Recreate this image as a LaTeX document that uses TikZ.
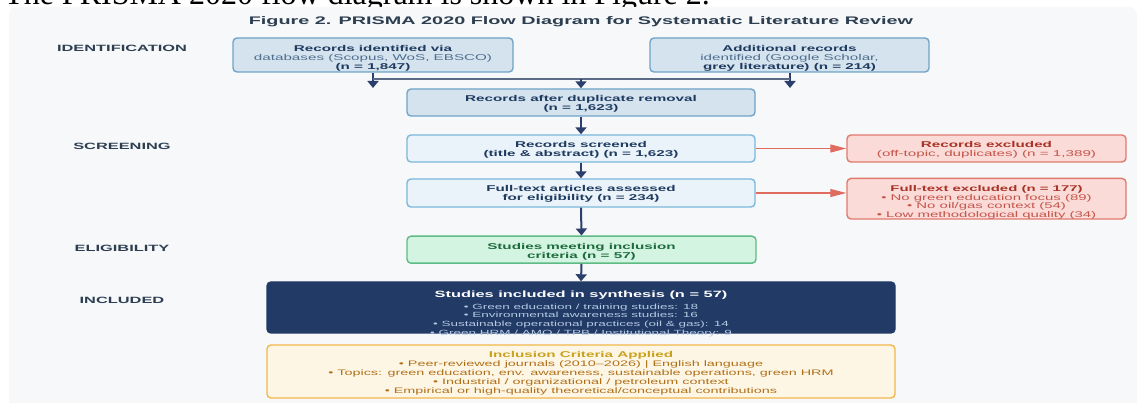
\documentclass[tikz,border=0pt]{standalone}
\usepackage{fontspec}
\setmainfont{Liberation Serif}
\newfontfamily\figsans[FakeStretch=1.8]{Liberation Sans}
\usetikzlibrary{arrows.meta}

\definecolor{panelbg}{HTML}{F7F8FA}
\definecolor{headc}{HTML}{2C3E50}
\definecolor{idfill}{HTML}{D5E3EF}
\definecolor{idline}{HTML}{6FA3C7}
\definecolor{idtext}{HTML}{1E3A5F}
\definecolor{idsub}{HTML}{4E6E8E}
\definecolor{scrfill}{HTML}{EAF3FA}
\definecolor{scrline}{HTML}{7AB8DB}
\definecolor{redfill}{HTML}{FADBD8}
\definecolor{redline}{HTML}{E07A6E}
\definecolor{redtitle}{HTML}{A93226}
\definecolor{redtext}{HTML}{C4554A}
\definecolor{grnfill}{HTML}{D4F4E2}
\definecolor{grnline}{HTML}{5DBB84}
\definecolor{grntext}{HTML}{1D6B3C}
\definecolor{navyfill}{HTML}{213A66}
\definecolor{navysub}{HTML}{B5C9E3}
\definecolor{critfill}{HTML}{FEF6E4}
\definecolor{critline}{HTML}{F2B84B}
\definecolor{crittitle}{HTML}{C9A11C}
\definecolor{crittext}{HTML}{B0701A}
\definecolor{arrowc}{HTML}{2C3E6B}
\definecolor{joinc}{HTML}{5B6B85}
\definecolor{redarrow}{HTML}{E06B5F}

% invisible strut that pushes a node's first line down
\newcommand\firstdrop[1]{\rule{0pt}{#1pt}}

\begin{document}
\begin{tikzpicture}[x=1pt,y=-1pt,
  box/.style={draw, rounded corners=4pt, line width=1.4pt, align=center,
    inner sep=0pt, font=\figsans\fontsize{8.45}{9.2}\selectfont},
  idbox/.style={box, fill=idfill, draw=idline, text=idtext},
  scrbox/.style={box, fill=scrfill, draw=scrline, text=idtext},
  redbox/.style={box, fill=redfill, draw=redline, text=redtext},
  grnbox/.style={box, fill=grnfill, draw=grnline, text=grntext},
  navybox/.style={box, fill=navyfill, draw=navyfill},
  critbox/.style={box, fill=critfill, draw=critline, text=crittext,
    font=\figsans\fontsize{8.0}{8.9}\selectfont},
  stage/.style={text=headc, font=\figsans\bfseries\fontsize{9.1}{10}\selectfont, inner sep=0pt},
  navyarrow/.style={draw=arrowc, line width=2pt, -{Triangle[length=7pt,width=11pt]}},
  joinline/.style={draw=joinc, line width=1.3pt},
  redarrowline/.style={draw=redarrow, line width=1.2pt, -{Triangle[length=16pt,width=8pt]}}
]
\useasboundingbox (0,0) rectangle (1138,403);
\fill[white] (0,0) rectangle (1138,403);

% running text line above the figure
\node[anchor=base west, inner sep=0pt, font=\fontsize{32}{36}\selectfont] (lead) at (4,4.5)
  {The PRISMA 2020 flow diagram is shown in Figure 2.};

% figure panel
\fill[panelbg, rounded corners=8pt] (9,7) rectangle (1137,430);

% title
\node[text=headc, inner sep=0pt, font=\figsans\bfseries\fontsize{11}{12}\selectfont] (title) at (581,21.5)
  {Figure 2. PRISMA 2020 Flow Diagram for Systematic Literature Review};

% stage labels
\node[stage] (sid)  at (122,48)    {IDENTIFICATION};
\node[stage] (sscr) at (122,146.7) {SCREENING};
\node[stage] (selg) at (122,248.3) {ELIGIBILITY};
\node[stage] (sinc) at (122,300.7) {INCLUDED};

% identification
\node[idbox, minimum width=280pt, minimum height=34pt] (db) at (373,55)
  {\firstdrop{13}\textbf{Records identified via}\\{\color{idsub}databases (Scopus, WoS, EBSCO)}\\\textbf{(n = 1,847)}};
\node[idbox, minimum width=279pt, minimum height=34pt] (other) at (789.5,55)
  {\firstdrop{13}\textbf{Additional records}\\{\color{idsub}identified (Google Scholar,}\\\textbf{grey literature) (n = 214)}};
\node[idbox, minimum width=348pt, minimum height=27pt] (dedup) at (581,102.5)
  {\firstdrop{8.5}\bfseries Records after duplicate removal\\\bfseries (n = 1,623)};

% screening
\node[scrbox, minimum width=348pt, minimum height=27pt] (screen) at (581,148.5)
  {\firstdrop{8.5}\bfseries Records screened\\\bfseries (title \& abstract) (n = 1,623)};
\node[scrbox, minimum width=348pt, minimum height=28pt] (full) at (581,193)
  {\firstdrop{8.5}\bfseries Full-text articles assessed\\\bfseries for eligibility (n = 234)};

\node[redbox, minimum width=279pt, minimum height=27pt] (exc1) at (986.5,148.5)
  {\firstdrop{9.5}{\color{redtitle}\bfseries Records excluded}\\(off-topic, duplicates) (n = 1,389)};
\node[redbox, minimum width=279pt, minimum height=39pt,
  font=\figsans\fontsize{8.3}{8.6}\selectfont] (exc2) at (986.5,198.7)
  {\firstdrop{13}{\color{redtitle}\bfseries Full-text excluded (n = 177)}\\• No green education focus (89)\\• No oil/gas context (54)\\• Low methodological quality (34)};

% eligibility
\node[grnbox, minimum width=349pt, minimum height=27pt] (elig) at (581.5,249.7)
  {\firstdrop{10.5}\bfseries Studies meeting inclusion\\\bfseries criteria (n = 57)};

% included
\node[navybox, minimum width=628pt, minimum height=51pt] (incl) at (581,307.5) {};
\node[align=center, inner sep=0pt, text=navysub,
  font=\figsans\fontsize{7.5}{8.7}\selectfont] (incltext) at (581,314)
  {{\color{white}\bfseries\fontsize{9.1}{8.7}\selectfont Studies included in synthesis (n = 57)}\\[2.5pt]
   • Green education / training studies: 18\\
   • Environmental awareness studies: 16\\
   • Sustainable operational practices (oil \& gas): 14\\
   • Green HRM / AMO / TPB / Institutional Theory: 9};

% inclusion criteria
\node[critbox, minimum width=628pt, minimum height=53pt] (crit) at (581,371.5)
  {\firstdrop{10}{\color{crittitle}\bfseries\fontsize{8.45}{8.9}\selectfont Inclusion Criteria Applied}\\
   • Peer-reviewed journals (2010–2026) | English language\\
   • Topics: green education, env. awareness, sustainable operations, green HRM\\
   • Industrial / organizational / petroleum context\\
   • Empirical or high-quality theoretical/conceptual contributions};

% connectors
\coordinate (dbtip) at (373,88);
\coordinate (othertip) at (790,88);
\coordinate (joinl) at (373,79);
\coordinate (joinr) at (790,79);
\coordinate (joinm) at (581,79);

\draw[navyarrow] (db.south) -- (dbtip);
\draw[navyarrow] (other.south -| othertip) -- (othertip);
\draw[joinline] (joinl) -- (joinr);
\draw[navyarrow] (joinm) -- (dedup.north);
\draw[navyarrow] (dedup.south) -- (screen.north);
\draw[navyarrow] (screen.south) -- (full.north);
\draw[navyarrow] (full.south) -- (elig.north);
\draw[navyarrow] (elig.south) -- (incl.north);

\draw[redarrowline] (screen.east) -- (exc1.west);
\draw[redarrowline] (full.east) -- (full.east -| exc2.west);
\end{tikzpicture}
\end{document}
